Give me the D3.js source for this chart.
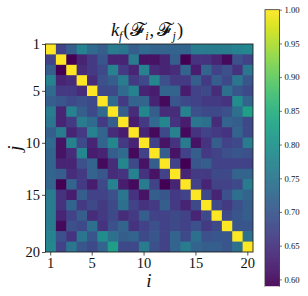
<!DOCTYPE html>
<html>
<head>
<meta charset="utf-8">
<script src="https://cdn.jsdelivr.net/npm/d3@7"></script>
<style>
  html, body { margin: 0; padding: 0; background: #fff; }
  svg { display: block; }
  text { font-family: "Liberation Serif", "DejaVu Serif", serif; fill: #111; }
</style>
</head>
<body>
<script>
var indices = d3.range(1, 21);
var tickLabels = [1, 5, 10, 15, 20];
// the first and last y ticks sit on the frame, not on the cell centres
var yTickPositions = [0.5, 5, 10, 15, 20.5];
var barTicks = [0.60, 0.65, 0.70, 0.75, 0.80, 0.85, 0.90, 0.95, 1.00];

// upper triangle of the symmetric kernel matrix, diagonal is 1
var upper = [
  [.67,.71,.77,.73,.71,.76,.75,.71,.73,.72,.72,.72,.72,.76,.76,.76,.76,.77,.78],
  [.59,.63,.66,.70,.63,.63,.76,.61,.61,.63,.71,.59,.65,.65,.63,.60,.69,.67],
  [.64,.66,.68,.77,.66,.63,.77,.64,.63,.64,.72,.62,.72,.67,.69,.65,.75],
  [.64,.69,.71,.76,.66,.68,.78,.69,.66,.66,.71,.66,.71,.68,.75,.70],
  [.68,.68,.73,.77,.63,.62,.72,.72,.62,.67,.68,.64,.74,.70,.68],
  [.73,.66,.72,.72,.63,.60,.70,.68,.67,.66,.66,.65,.79,.72],
  [.71,.64,.78,.71,.64,.64,.77,.69,.68,.68,.69,.74,.82],
  [.62,.66,.73,.78,.65,.62,.75,.74,.64,.72,.71,.68],
  [.63,.60,.68,.77,.60,.65,.67,.66,.65,.72,.68],
  [.67,.61,.65,.76,.61,.65,.71,.67,.68,.76],
  [.71,.61,.67,.71,.66,.67,.69,.70,.69],
  [.67,.59,.70,.71,.67,.67,.67,.67],
  [.63,.66,.66,.68,.68,.72,.72],
  [.67,.63,.67,.67,.68,.76],
  [.68,.63,.69,.74,.72],
  [.68,.66,.69,.71],
  [.68,.70,.71],
  [.70,.70],
  [.74]
];

var cells = [];
indices.forEach(function(j, r) {
  indices.forEach(function(i, c) {
    var v = 1;
    if (c > r) v = upper[r][c - r - 1];
    if (c < r) v = upper[c][r - c - 1];
    cells.push({ i: i, j: j, v: v });
  });
});

var vMin = 0.5895, vMax = 1;
var left = 45.5, right = 253, top_ = 44, bottom = 252;
var barLeft = 265, barRight = 279.5, barTop = 9.7, barBottom = 286.5;

var color = d3.scaleSequential(d3.interpolateViridis).domain([vMin, vMax]);
var x = d3.scaleBand().domain(indices).range([left, right]);
var y = d3.scaleBand().domain(indices).range([top_, bottom]);
var yTicks = d3.scaleLinear().domain([0.5, 20.5]).range([top_, bottom]);
var barScale = d3.scaleLinear().domain([vMin, vMax]).range([barBottom, barTop]);

var svg = d3.select("body").append("svg")
    .attr("width", 308)
    .attr("height", 296);

svg.append("clipPath").attr("id", "plot")
  .append("rect")
    .attr("x", left).attr("y", top_)
    .attr("width", right - left).attr("height", bottom - top_);

svg.append("g").attr("clip-path", "url(#plot)")
  .selectAll("rect")
    .data(cells)
    .enter()
    .append("rect")
    .attr("x", function(d) { return x(d.i); })
    .attr("y", function(d) { return y(d.j); })
    .attr("width", x.bandwidth() + 0.7)
    .attr("height", y.bandwidth() + 0.7)
    .attr("fill", function(d) { return color(d.v); });

svg.append("rect")
    .attr("x", left).attr("y", top_)
    .attr("width", right - left).attr("height", bottom - top_)
    .attr("fill", "none").attr("stroke", "#222").attr("stroke-width", 0.9);

var xAxis = d3.axisBottom(x).tickValues(tickLabels).tickSize(3.5).tickPadding(2);
var yAxis = d3.axisLeft(yTicks).tickValues(yTickPositions)
    .tickFormat(function(d, n) { return tickLabels[n]; })
    .tickSize(3.5).tickPadding(2);

var gx = svg.append("g").attr("transform", "translate(0," + bottom + ")").call(xAxis);
var gy = svg.append("g").attr("transform", "translate(" + left + ",0)").call(yAxis);
[gx, gy].forEach(function(g) {
  g.select(".domain").remove();
  g.selectAll("line").attr("stroke", "#222").attr("stroke-width", 0.8);
  g.selectAll("text").attr("font-size", 14.5).attr("font-family", "Liberation Serif");
});

// colorbar, one thin rect per pixel row
var barRows = d3.range(barTop, barBottom);
svg.selectAll("rect.bar")
    .data(barRows)
    .enter()
    .append("rect")
    .attr("class", "bar")
    .attr("x", barLeft)
    .attr("y", function(d) { return d; })
    .attr("width", barRight - barLeft)
    .attr("height", 1.2)
    .attr("fill", function(d) { return color(barScale.invert(d + 0.5)); });

svg.append("rect")
    .attr("x", barLeft).attr("y", barTop)
    .attr("width", barRight - barLeft).attr("height", barBottom - barTop)
    .attr("fill", "none").attr("stroke", "#333").attr("stroke-width", 0.8);

// pale line under the bar
svg.append("line")
    .attr("x1", barLeft).attr("x2", barRight)
    .attr("y1", barBottom).attr("y2", barBottom)
    .attr("stroke", "#d9c6d6").attr("stroke-width", 1);

var barAxis = d3.axisRight(barScale).tickValues(barTicks)
    .tickFormat(d3.format(".2f")).tickSize(2.5).tickPadding(2.5);
var gb = svg.append("g").attr("transform", "translate(" + barRight + ",0)").call(barAxis);
gb.select(".domain").remove();
gb.selectAll("line").attr("stroke", "#222").attr("stroke-width", 0.6);
gb.selectAll("text").attr("font-size", 8.7).attr("font-family", "Liberation Serif");

// labels
svg.append("text")
    .attr("x", 149).attr("y", 287)
    .attr("text-anchor", "middle")
    .attr("font-size", 19)
    .attr("font-style", "italic")
    .text("i");

svg.append("text")
    .attr("transform", "translate(21,148) rotate(-90)")
    .attr("text-anchor", "middle")
    .attr("font-size", 19)
    .attr("font-style", "italic")
    .text("j");

var title = svg.append("text")
    .attr("x", 147).attr("y", 36)
    .attr("text-anchor", "middle")
    .attr("font-size", 18.5);
title.append("tspan").attr("font-style", "italic").text("k");
title.append("tspan").attr("font-style", "italic").attr("font-size", 12).attr("dy", 4).text("f");
title.append("tspan").attr("dy", -4).attr("dx", 1).text("(\uD835\uDCD5");
title.append("tspan").attr("font-style", "italic").attr("font-size", 12).attr("dy", 4).attr("dx", 1.5).text("i");
title.append("tspan").attr("dy", -4).attr("dx", 1).text(",");
title.append("tspan").attr("dx", 3).text("\uD835\uDCD5");
title.append("tspan").attr("font-style", "italic").attr("font-size", 12).attr("dy", 4).attr("dx", 1.5).text("j");
title.append("tspan").attr("dy", -4).attr("dx", 1).text(")");
</script>
</body>
</html>
